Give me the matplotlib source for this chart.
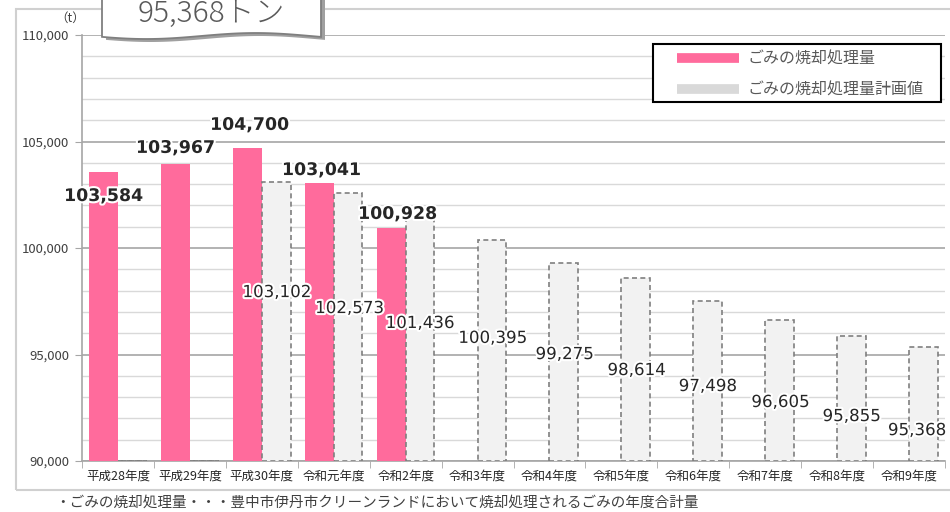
import numpy as np
import matplotlib
matplotlib.use('Agg')
import matplotlib.pyplot as plt
import matplotlib.patheffects as pe
from matplotlib.patches import Polygon, Rectangle
from matplotlib.lines import Line2D

plt.rcParams['font.family'] = ['Noto Sans CJK JP', 'DejaVu Sans']

years = ['平成28年度', '平成29年度', '平成30年度', '令和元年度', '令和2年度', '令和3年度',
         '令和4年度', '令和5年度', '令和6年度', '令和7年度', '令和8年度', '令和9年度']
actual = [103584, 103967, 104700, 103041, 100928, None, None, None, None, None, None, None]
plan = [None, None, 103102, 102573, 101436, 100395, 99275, 98614, 97498, 96605, 95855, 95368]
callout_text = '95,368トン'
footnote = '・ごみの焼却処理量・・・豊中市伊丹市クリーンランドにおいて焼却処理されるごみの年度合計量'

# label positions (layout, data units / category offsets)
actual_lbl_y = [102440, 104700, 105780, 103660, 101600]
actual_lbl_dx = [-0.20, -0.20, -0.17, -0.17, -0.11]
plan_lbl_y = [None, None, 97930, 97180, 96480, 95780, 95020, 94270, 93520, 92770, 92110, 91450]
plan_lbl_dx = [0, 0, 0.21, 0.22, 0.20, 0.21, 0.21, 0.21, 0.20, 0.21, 0.20, 0.11]

pink = '#FF6B9C'
ymin, ymax = 90000, 110000

fig = plt.figure(figsize=(9.5, 5.12), dpi=100)
W, H = 950, 512
ax = fig.add_axes([82 / W, 1 - 461 / H, (945 - 82) / W, (461 - 35) / H])

x = np.arange(len(years))
bw = 0.40

for i, v in enumerate(actual):
    if v is not None:
        ax.bar(x[i] - bw / 2, v - ymin, bottom=ymin, width=bw, color=pink, zorder=3)
for i, v in enumerate(plan):
    h = 0 if v is None else v - ymin
    ax.bar(x[i] + bw / 2, h, bottom=ymin, width=bw, color='#F2F2F2',
           edgecolor='#7F7F7F', linestyle=(0, (3, 2)), linewidth=1.2, zorder=3)

glow = [pe.withStroke(linewidth=3, foreground='white')]
for i, v in enumerate(actual):
    if v is not None:
        ax.text(x[i] + actual_lbl_dx[i], actual_lbl_y[i], f'{v:,}', ha='center', va='center',
                fontsize=12.5, fontweight='bold', color='#262626', family='DejaVu Sans',
                path_effects=glow, zorder=5)
for i, v in enumerate(plan):
    if v is not None:
        ax.text(x[i] + plan_lbl_dx[i], plan_lbl_y[i], f'{v:,}', ha='center', va='center',
                fontsize=12, color='#262626', family='DejaVu Sans',
                path_effects=glow, zorder=5)

ax.set_xlim(-0.5, len(years) - 0.5)
ax.set_ylim(ymin, ymax)
ax.set_yticks(np.arange(ymin, ymax + 1, 5000))
ax.set_yticklabels([f'{v:,}' for v in range(ymin, ymax + 1, 5000)], fontsize=9.5, color='#404040')
ax.set_yticks(np.arange(ymin, ymax + 1, 1000), minor=True)
ax.grid(axis='y', which='minor', color='#D9D9D9', linewidth=1, zorder=0)
ax.grid(axis='y', which='major', color='#A6A6A6', linewidth=1.2, zorder=0)
ax.tick_params(axis='y', which='major', length=5, color='#A6A6A6', pad=4)
ax.tick_params(axis='y', which='minor', length=0)

ax.set_xticks(x)
ax.set_xticklabels(years, fontsize=9, color='#262626')
ax.set_xticks(np.arange(-0.5, len(years)), minor=True)
ax.tick_params(axis='x', which='major', length=0, pad=6)
ax.tick_params(axis='x', which='minor', length=5, color='#A6A6A6')
for s in ['top', 'right']:
    ax.spines[s].set_visible(False)
for s in ['left', 'bottom']:
    ax.spines[s].set_color('#A6A6A6')
    ax.spines[s].set_linewidth(1.2)

# legend: frame drawn separately so padding can differ per side
fig.patches.append(Rectangle((653 / W, 1 - 102 / H), (941 - 653) / W, (102 - 44) / H,
                             transform=fig.transFigure, facecolor='white', edgecolor='black',
                             linewidth=1.5, zorder=5))
handles = [Line2D([], [], color=pink, linewidth=7, solid_capstyle='butt'),
           Line2D([], [], color='#D9D9D9', linewidth=7, solid_capstyle='butt')]
leg = fig.legend(handles, ['ごみの焼却処理量', 'ごみの焼却処理量計画値'], loc='upper left',
                 bbox_to_anchor=(677 / W, 1 - 51 / H), bbox_transform=fig.transFigure,
                 frameon=False, fontsize=11.5, handlelength=3.9, labelspacing=0.85,
                 borderpad=0, handletextpad=0.5, borderaxespad=0)
for t in leg.get_texts():
    t.set_color('#595959')
leg.set_zorder(6)

# outer frame
fig.patches.append(Rectangle((16 / W, 1 - 490 / H), 1.1, (490 - 9) / H, transform=fig.transFigure,
                             fill=False, edgecolor='#D0D0D0', linewidth=1.5, zorder=0))

fig.text(70 / W, 1 - 18 / H, '（t）', fontsize=9, color='#404040', ha='center', va='center')

# callout with wavy bottom
xs = np.linspace(102, 321, 60)
wave = 36 + 3.0 * np.sin((xs - 102) / 219 * 2 * np.pi + 0.3)
pts = [(102, -5)] + list(zip(xs, wave)) + [(321, -5)]
for off, col in [((4, 3), '#A0A0A0'), ((0, 0), 'white')]:
    poly = Polygon([((px + off[0]) / W, 1 - (py + off[1]) / H) for px, py in pts], closed=True,
                   transform=fig.transFigure, facecolor=col,
                   edgecolor='#7F7F7F' if col == 'white' else 'none', linewidth=1.3, zorder=7)
    fig.patches.append(poly)
fig.text(211 / W, 1 - 14 / H, callout_text, fontsize=21.5, fontweight='light', color='#595959',
         ha='center', va='center', zorder=8)

fig.text(55 / W, 1 - 503 / H, footnote, fontsize=10.5, color='#404040', ha='left', va='center')

fig.savefig('out.png', dpi=100)
